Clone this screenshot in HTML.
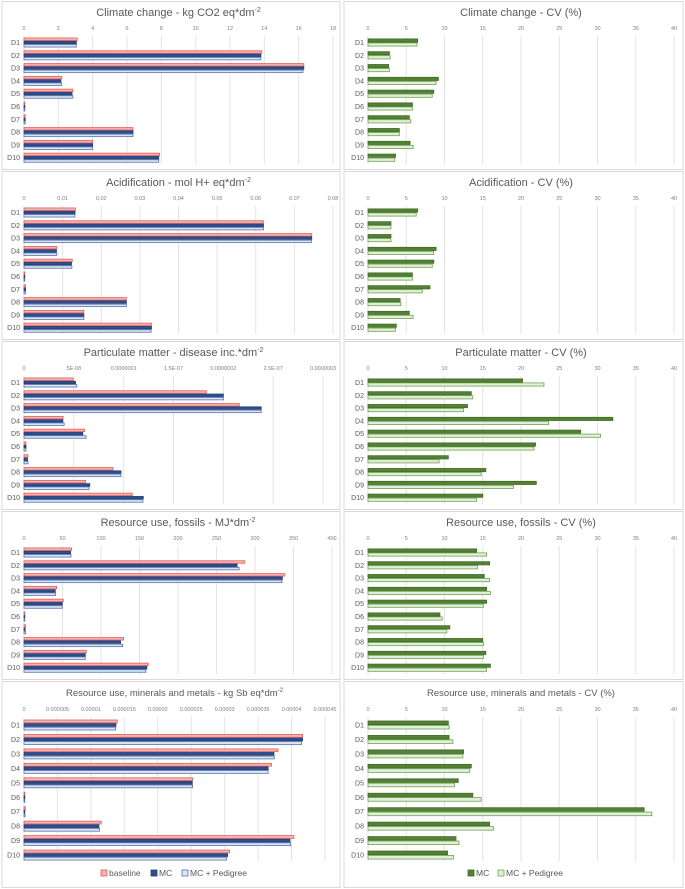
<!DOCTYPE html>
<html><head><meta charset="utf-8">
<style>
html,body{margin:0;padding:0;background:#fff;}
svg{display:block;font-family:"Liberation Sans",sans-serif;}
</style></head>
<body>
<svg id="chart" width="685" height="889" viewBox="0 0 685 889" xmlns="http://www.w3.org/2000/svg"></svg>
<script>
const categories = ["D1","D2","D3","D4","D5","D6","D7","D8","D9","D10"];

// Climate change (kg CO2 eq)
const ccBaseline = [3.1,13.85,16.3,2.2,2.85,0.05,0.07,6.35,4.0,7.9];
const ccMC       = [3.05,13.8,16.3,2.15,2.8,0.05,0.07,6.35,4.0,7.85];
const ccPed      = [3.05,13.8,16.25,2.2,2.85,0.05,0.07,6.35,4.0,7.85];
const ccTicks    = ["0","2","4","6","8","10","12","14","16","18"];
const ccCvMC     = [6.5,2.8,2.7,9.2,8.6,5.8,5.4,4.1,5.5,3.6];
const ccCvPed    = [6.4,2.9,2.8,8.9,8.4,5.8,5.6,4.1,5.9,3.5];

// Acidification
const acBaseline = [0.0133,0.062,0.0745,0.0085,0.0125,0.0002,0.0004,0.0265,0.0155,0.0330];
const acMC       = [0.0132,0.062,0.0745,0.0084,0.0123,0.0002,0.0004,0.0265,0.0155,0.0330];
const acPed      = [0.0132,0.062,0.0744,0.0085,0.0124,0.0002,0.0004,0.0265,0.0155,0.0329];
const acTicks    = ["0","0.01","0.02","0.03","0.04","0.05","0.06","0.07","0.08"];
const acCvMC     = [6.5,3.0,3.0,8.9,8.6,5.8,8.1,4.2,5.4,3.7];
const acCvPed    = [6.3,3.0,3.0,8.6,8.4,5.8,7.1,4.3,5.9,3.6];

// Particulate matter (x1e-8)
const pmBaseline = [4.93,18.3,21.6,3.93,6.07,0.2,0.4,8.93,6.17,10.87];
const pmMC       = [5.17,20.0,23.8,3.9,5.9,0.2,0.35,9.73,6.6,11.97];
const pmPed      = [5.3,20.0,23.8,4.03,6.23,0.2,0.4,9.73,6.53,11.93];
const pmTicks    = ["0","5E-08","0.0000001","1.5E-07","0.0000002","2.5E-07","0.0000003"];
const pmCvMC     = [20.2,13.5,13.0,32.0,27.8,21.9,10.5,15.4,22.0,15.0];
const pmCvPed    = [23.0,13.7,12.5,23.6,30.4,21.7,9.3,14.8,19.0,14.2];

// Resource use, fossils
const rfBaseline = [61.8,286.7,338.6,42.4,51,1,2,129.3,80.9,161.3];
const rfMC       = [60.5,276.8,335.6,40.6,49.7,1,1.5,125.4,79.6,159.6];
const rfPed      = [61,279.4,335.1,41,49.7,1,2,128,79.6,158.3];
const rfTicks    = ["0","50","100","150","200","250","300","350","400"];
const rfCvMC     = [14.2,15.9,15.2,15.5,15.5,9.4,10.7,15.0,15.4,16.0];
const rfCvPed    = [15.5,14.3,15.9,16.0,15.1,9.7,10.3,15.1,15.1,15.5];

// Resource use, minerals and metals (x1e-6)
const rmBaseline = [13.95,41.65,37.97,37.0,25.2,0.05,0.2,11.56,40.36,30.74];
const rmMC       = [13.75,41.65,37.37,36.5,25.16,0.05,0.1,11.2,39.76,30.44];
const rmPed      = [13.7,41.5,37.42,36.5,25.2,0.05,0.15,11.3,39.86,30.3];
const rmTicks    = ["0","0.000005","0.00001","0.000015","0.00002","0.000025","0.00003","0.000035","0.00004","0.000045"];
const rmCvMC     = [10.5,10.6,12.5,13.5,11.8,13.7,36.1,15.9,11.5,10.4];
const rmCvPed    = [10.6,11.1,12.4,13.3,11.3,14.8,37.1,16.4,11.9,11.2];

const cvTicks = ["0","5","10","15","20","25","30","35","40"];

const NS = "http://www.w3.org/2000/svg";
const svg = document.getElementById("chart");
function mk(tag, attrs, parent, text){
  const e = document.createElementNS(NS, tag);
  for (const k in attrs) e.setAttribute(k, attrs[k]);
  if (text !== undefined) e.textContent = text;
  (parent || svg).appendChild(e);
  return e;
}

const LEFT = {
  baseline:{fill:"#f4b3b0",stroke:"#e0605c"},
  mc:{fill:"#2f4e8e",stroke:"#243d73"},
  ped:{fill:"#dbe5f3",stroke:"#5473ad"}
};
const GREEN = {mc:{fill:"#548235",stroke:"#3f6a25"}, ped:{fill:"#e2efda",stroke:"#70a050"}};

function frame(x,y,w,h,name){
  const r = mk("rect",{x:x,y:y,width:w,height:h,fill:"#fff",stroke:"#d9d9d9","stroke-width":1});
  
  
}

function panel(opts){
  const g = mk("g",{});
  
  
  const T = opts.top;
  const x0 = opts.x0, x1 = opts.x1;
  const nT = opts.ticks.length - 1;
  const xs = v => x0 + (v / opts.max) * (x1 - x0);
  // title
  const t = mk("text",{x:(x0+x1)/2,y:T+opts.titleDy,"text-anchor":"middle","font-size":opts.titleSize||11,fill:"#595959"},g);
  
  
  t.innerHTML = opts.title;
  // grid + ticks
  for (let i=0;i<=nT;i++){
    const gx = x0 + i*(x1-x0)/nT;
    const gl = mk("line",{x1:gx,x2:gx,y1:T+opts.gridTop,y2:T+opts.gridBot,stroke:"#e3e3e3","stroke-width":1},g);
    
    
    const tl = mk("text",{x:gx,y:T+opts.tickDy,"text-anchor":"middle","font-size":5.5,fill:"#7f7f7f"},g,opts.ticks[i]);
    
    
  }
  const nS = opts.series.length;
  const bh = opts.barH;
  for (let c=0;c<categories.length;c++){
    const cy = T + opts.firstY + c*opts.step;
    const cl = mk("text",{x:x0-4,y:cy+2.5,"text-anchor":"end","font-size":7,fill:"#595959"},g,categories[c]);
    
    
    const top = cy - nS*bh/2;
    for (let s=0;s<nS;s++){
      const sr = opts.series[s];
      const w = Math.max(0.8, xs(sr.data[c]) - x0);
      const b = mk("rect",{x:x0,y:top+s*bh+0.4,width:w,height:bh-0.8,fill:sr.style.fill,stroke:sr.style.stroke,"stroke-width":0.8},g);
      
      
    }
  }
}

const rows = [
  {top:0, titleL:'Climate change - kg CO2 eq*dm<tspan font-size="7" dy="-4">-2</tspan>', titleR:'Climate change - CV (%)', b:ccBaseline,m:ccMC,p:ccPed,ticks:ccTicks,max:18,x1:333,cm:ccCvMC,cp:ccCvPed,key:"climate-change"},
  {top:170, titleL:'Acidification - mol H+ eq*dm<tspan font-size="7" dy="-4">-2</tspan>', titleR:'Acidification -  CV (%)', b:acBaseline,m:acMC,p:acPed,ticks:acTicks,max:0.08,x1:333,cm:acCvMC,cp:acCvPed,key:"acidification"},
  {top:340, titleL:'Particulate matter - disease inc.*dm<tspan font-size="7" dy="-4">-2</tspan>', titleR:'Particulate matter - CV (%)', b:pmBaseline,m:pmMC,p:pmPed,ticks:pmTicks,max:30,x1:323,cm:pmCvMC,cp:pmCvPed,key:"particulate-matter"},
  {top:510, titleL:'Resource use, fossils - MJ*dm<tspan font-size="7" dy="-4">-2</tspan>', titleR:'Resource use, fossils - CV (%)', b:rfBaseline,m:rfMC,p:rfPed,ticks:rfTicks,max:400,x1:332,cm:rfCvMC,cp:rfCvPed,key:"fossils"},
  {top:680, titleL:'Resource use, minerals and metals  - kg Sb eq*dm<tspan font-size="6" dy="-4">-2</tspan>', titleR:'Resource use, minerals and metals  - CV (%)', b:rmBaseline,m:rmMC,p:rmPed,ticks:rmTicks,max:45,x1:325,cm:rmCvMC,cp:rmCvPed,key:"minerals",last:true}
];

rows.forEach(r=>{
  const h = r.last ? 206 : 168;
  frame(2, r.top+1.5, 338, h, 'panel-frame-' + r.key);
  frame(344, r.top+1.5, 339, h, 'panel-frame-cv-' + r.key);
  const geo = r.last
    ? {titleDy:16,titleSize:9.5,tickDy:31,firstY:45,step:14.45,gridTop:37,gridBot:181,barL:3.6,barR:4.4}
    : {titleDy:16,titleSize:11,tickDy:30,firstY:42.5,step:12.8,gridTop:36,gridBot:164,barL:3.3,barR:4};
  panel({name:'panel-' + r.key, top:r.top, x0:24, x1:r.x1, max:r.max, ticks:r.ticks, title:r.titleL,
    titleDy:geo.titleDy, titleSize:geo.titleSize, tickDy:geo.tickDy, firstY:geo.firstY, step:geo.step, gridTop:geo.gridTop, gridBot:geo.gridBot, barH:geo.barL,
    series:[{key:"baseline",data:r.b,style:LEFT.baseline},{key:"mc",data:r.m,style:LEFT.mc},{key:"mc-pedigree",data:r.p,style:LEFT.ped}]});
  panel({name:'panel-cv-' + r.key, top:r.top, x0:368, x1:674, max:40, ticks:cvTicks, title:r.titleR,
    titleDy:geo.titleDy, titleSize:geo.titleSize, tickDy:geo.tickDy, firstY:geo.firstY, step:geo.step, gridTop:geo.gridTop, gridBot:geo.gridBot, barH:geo.barR,
    series:[{key:"mc",data:r.cm,style:GREEN.mc},{key:"mc-pedigree",data:r.cp,style:GREEN.ped}]});
});

// Legends
function legendEntry(x,y,style,label,name){
  const g = mk("g",{});
  
  
  mk("rect",{x:x,y:y-5,width:6,height:6,fill:style.fill,stroke:style.stroke,"stroke-width":0.8},g);
  mk("text",{x:x+8,y:y+1,"font-size":8.5,fill:"#595959"},g,label);
}
legendEntry(101,875,LEFT.baseline,"baseline","legend-entry-baseline");
legendEntry(151,875,LEFT.mc,"MC","legend-entry-mc");
legendEntry(182,875,LEFT.ped,"MC + Pedigree","legend-entry-mc-pedigree");
legendEntry(468,875,GREEN.mc,"MC","legend-entry-cv-mc");
legendEntry(498,875,GREEN.ped,"MC + Pedigree","legend-entry-cv-mc-pedigree");
</script>
</body></html>
